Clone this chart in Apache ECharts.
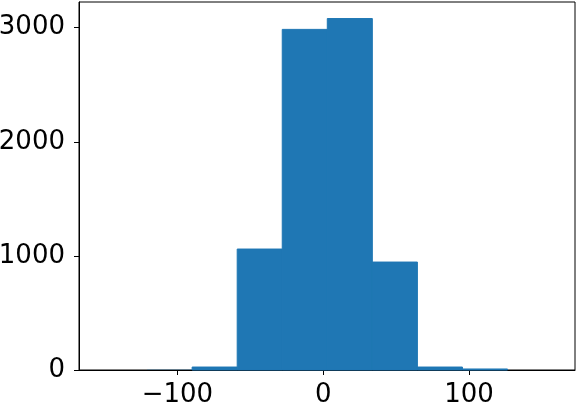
<!DOCTYPE html>
<html>
<head>
<meta charset="utf-8">
<script src="https://cdn.jsdelivr.net/npm/echarts@6/dist/echarts.min.js"></script>
<style>
  html, body { margin: 0; padding: 0; background: #fff; }
  #box { width: 577px; height: 402px; }
</style>
</head>
<body>
<div id="box"></div>
<script>
  // histogram bins (left edge, right edge) and counts
  const binEdges = [-151.7, -120.8, -89.9, -59.0, -28.1, 2.8, 33.7, 64.6, 95.5, 126.4, 157.3];
  const counts = [1, 2, 26, 1060, 2985, 3080, 946, 26, 9, 1];
  const xTicks = [-100, 0, 100];
  const yTicks = [0, 1000, 2000, 3000];

  const bins = counts.map((c, i) => [binEdges[i], binEdges[i + 1], c]);

  const fmt = (v) => String(v).replace('-', '\u2212');
  const font = { fontFamily: 'DejaVu Sans', fontSize: 26, color: '#000' };

  const chart = echarts.init(document.getElementById('box'));
  chart.setOption({
    animation: false,
    grid: {
      left: 79, right: 2, top: 2, bottom: 32,
      outerBoundsMode: 'none',
      containLabel: false,
      show: true, borderColor: '#000', borderWidth: 1, backgroundColor: 'transparent',
    },
    xAxis: {
      type: 'value',
      min: -167.5,
      max: 172.7,
      splitLine: { show: false },
      axisLine: { show: true, onZero: false, lineStyle: { color: '#000', width: 1 } },
      axisTick: { show: true, length: 5, lineStyle: { color: '#000' }, customValues: xTicks },
      axisLabel: { ...font, margin: 12, customValues: xTicks, formatter: fmt },
    },
    yAxis: {
      type: 'value',
      min: 0,
      max: 3225,
      splitLine: { show: false },
      axisLine: { show: true, onZero: false, lineStyle: { color: '#000', width: 1 } },
      axisTick: { show: true, length: 5, lineStyle: { color: '#000' }, customValues: yTicks },
      axisLabel: { ...font, margin: 14, customValues: yTicks, formatter: fmt },
    },
    series: [{
      type: 'custom',
      data: bins,
      renderItem: (params, api) => {
        const p0 = api.coord([api.value(0), api.value(2)]);
        const p1 = api.coord([api.value(1), 0]);
        const h = p1[1] - p0[1];
        return {
          type: 'rect',
          shape: { x: p0[0], y: p0[1], width: p1[0] - p0[0], height: h },
          style: h >= 1
            ? { fill: '#1f77b4', stroke: '#1f77b4', lineWidth: 1 }
            : { fill: '#1f77b4' },
        };
      },
      encode: { x: [0, 1], y: 2 },
    }],
  });
</script>
</body>
</html>
